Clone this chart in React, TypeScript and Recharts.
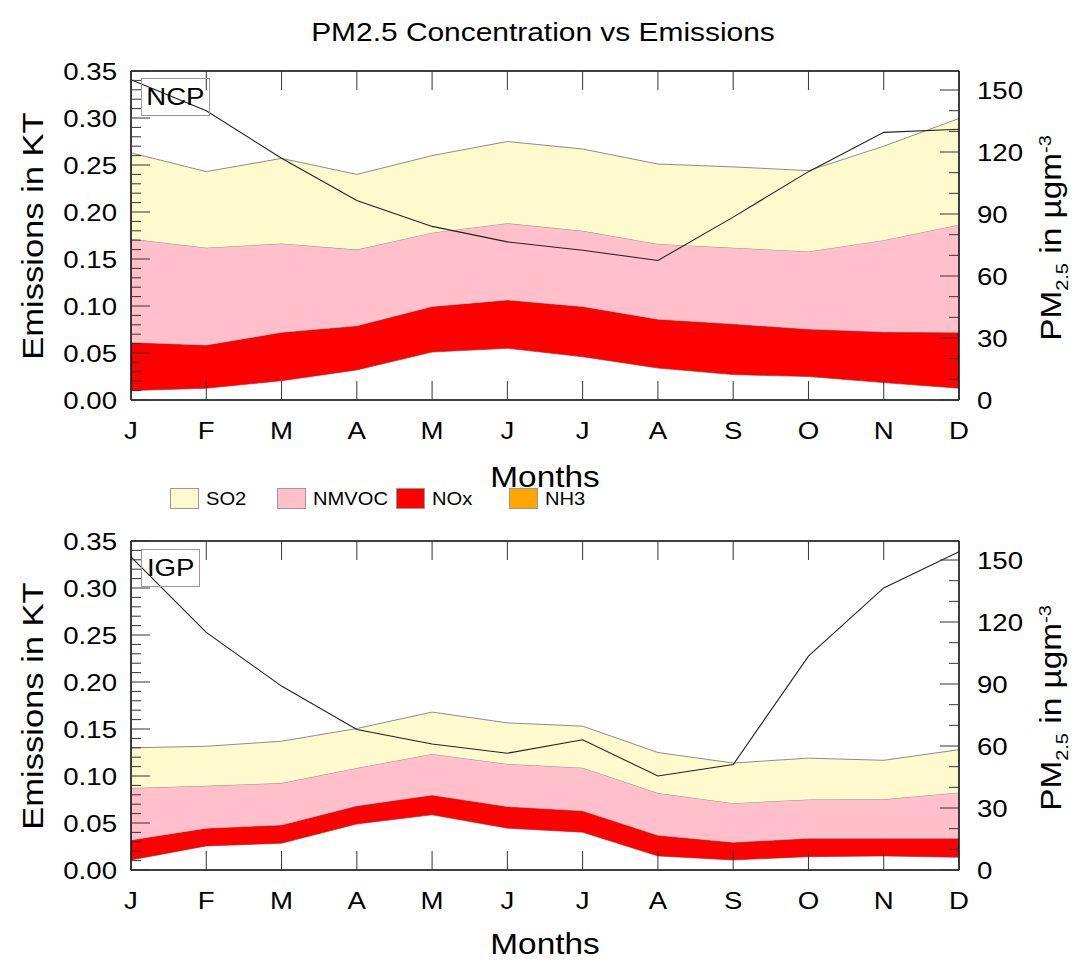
import { ComposedChart, Area, Line, XAxis, YAxis, ReferenceLine } from 'recharts';

const months = ['J', 'F', 'M', 'A', 'M', 'J', 'J', 'A', 'S', 'O', 'N', 'D'];
const monthIdx = [0, 1, 2, 3, 4, 5, 6, 7, 8, 9, 10, 11];

// NCP emissions (KT), stacked bottom to top
const ncpNH3 = [0.010, 0.0125, 0.0205, 0.032, 0.051, 0.055, 0.046, 0.034, 0.027, 0.025, 0.0185, 0.0125];
const ncpNOx = [0.0515, 0.046, 0.0515, 0.047, 0.0485, 0.0515, 0.0535, 0.052, 0.054, 0.0505, 0.054, 0.0595];
const ncpNMVOC = [0.110, 0.1035, 0.0945, 0.081, 0.0785, 0.0815, 0.0805, 0.080, 0.081, 0.0825, 0.0975, 0.1145];
const ncpSO2 = [0.0915, 0.081, 0.0905, 0.080, 0.082, 0.087, 0.087, 0.085, 0.086, 0.086, 0.100, 0.113];
const ncpPM25 = [155, 140, 117, 96.5, 84, 76.5, 72.5, 67.5, 88.5, 110.5, 129.5, 131];

// IGP emissions (KT)
const igpNH3 = [0.0107, 0.0256, 0.0285, 0.049, 0.0587, 0.0445, 0.0402, 0.015, 0.0107, 0.0142, 0.015, 0.0135];
const igpNOx = [0.0213, 0.0189, 0.0195, 0.0193, 0.021, 0.0231, 0.0228, 0.022, 0.0188, 0.0196, 0.0188, 0.0203];
const igpNMVOC = [0.0552, 0.0451, 0.0445, 0.0402, 0.0437, 0.0452, 0.0458, 0.0448, 0.0416, 0.0412, 0.0414, 0.0487];
const igpSO2 = [0.0428, 0.042, 0.0445, 0.042, 0.0446, 0.0437, 0.0442, 0.0432, 0.0427, 0.044, 0.0415, 0.0455];
const igpPM25 = [151.5, 115, 89, 68, 61, 56.5, 63, 45.5, 51, 103.5, 136.5, 154];

const leftMajor = [0, 0.05, 0.1, 0.15, 0.2, 0.25, 0.3, 0.35];
const leftMinor = [
  0.01, 0.02, 0.03, 0.04, 0.06, 0.07, 0.08, 0.09, 0.11, 0.12, 0.13, 0.14,
  0.16, 0.17, 0.18, 0.19, 0.21, 0.22, 0.23, 0.24, 0.26, 0.27, 0.28, 0.29,
  0.31, 0.32, 0.33, 0.34,
];
const rightMajor = [0, 30, 60, 90, 120, 150];
const rightMinor = [10, 20, 40, 50, 70, 80, 100, 110, 130, 140];

const FONT = '"Liberation Sans", Arial, Helvetica, sans-serif';
const SX = 1.15; // the reference lettering runs a bit wide
const W = 1076;
const PLOT_L = 131;
const PLOT_R = 959;
const PLOT_T = 71;
const PLOT_B = 400;
const AXIS_W = 60;
const X_H = 30;

const COLORS = { so2: '#fffacd', nmvoc: '#ffc0cb', nox: '#ff0000', nh3: '#ffa500' };
const EDGE = '#8c8c8c';

const isIn = (list: number[], v: number) => list.some((m) => Math.abs(m - v) < 1e-6);

function WideText({ x, y, anchor, children }: { x: number; y: number; anchor: 'start' | 'middle' | 'end'; children: any }) {
  return (
    <text
      transform={`translate(${x},${y}) scale(${SX},1)`}
      dy="0.36em"
      textAnchor={anchor}
      fontSize={24}
      fontFamily={FONT}
      fill="#000"
    >
      {children}
    </text>
  );
}

function LeftTick(props: any) {
  const { x, y, payload } = props;
  const major = isIn(leftMajor, payload.value);
  return (
    <g>
      <line x1={x} x2={x + (major ? 19 : 10)} y1={y} y2={y} stroke="#333" strokeWidth={1} />
      {major && (
        <WideText x={x - 14} y={y} anchor="end">
          {payload.value.toFixed(2)}
        </WideText>
      )}
    </g>
  );
}

function RightTick(props: any) {
  const { x, y, payload } = props;
  const major = isIn(rightMajor, payload.value);
  return (
    <g>
      <line x1={x} x2={x - (major ? 19 : 10)} y1={y} y2={y} stroke="#333" strokeWidth={1} />
      {major && (
        <WideText x={x + 18} y={y} anchor="start">
          {payload.value}
        </WideText>
      )}
    </g>
  );
}

function MonthTick(props: any) {
  const { x, y, payload } = props;
  return (
    <g>
      <line x1={x} x2={x} y1={y} y2={y - 19} stroke="#333" strokeWidth={1} />
      <line x1={x} x2={x} y1={PLOT_T} y2={PLOT_T + 19} stroke="#333" strokeWidth={1} />
      <WideText x={x} y={y + 30} anchor="middle">
        {months[payload.value]}
      </WideText>
    </g>
  );
}

interface PanelProps {
  nh3: number[];
  nox: number[];
  nmvoc: number[];
  so2: number[];
  pm: number[];
  height: number;
}

function Panel({ nh3, nox, nmvoc, so2, pm, height }: PanelProps) {
  const data = monthIdx.map((i) => ({
    idx: i,
    nh3: nh3[i],
    nox: nox[i],
    nmvoc: nmvoc[i],
    so2: so2[i],
    pm: pm[i],
  }));
  return (
    <ComposedChart
      width={W}
      height={height}
      data={data}
      margin={{
        top: PLOT_T,
        left: PLOT_L - AXIS_W,
        right: W - PLOT_R - AXIS_W,
        bottom: height - PLOT_B - X_H,
      }}
    >
      <XAxis
        dataKey="idx"
        type="number"
        domain={[0, 11]}
        ticks={monthIdx}
        interval={0}
        height={X_H}
        tickSize={0}
        tickMargin={0}
        tickLine={false}
        axisLine={{ stroke: '#000', strokeWidth: 1.5 }}
        tick={(p: any) => <MonthTick {...p} />}
      />
      <YAxis
        yAxisId="left"
        type="number"
        domain={[0, 0.35]}
        allowDataOverflow
        ticks={[...leftMajor, ...leftMinor].sort((a, b) => a - b)}
        interval={0}
        width={AXIS_W}
        tickSize={0}
        tickMargin={0}
        tickLine={false}
        axisLine={{ stroke: '#000', strokeWidth: 1.5 }}
        tick={(p: any) => <LeftTick {...p} />}
      />
      <YAxis
        yAxisId="right"
        orientation="right"
        type="number"
        domain={[0, 159.2]}
        allowDataOverflow
        ticks={[...rightMajor, ...rightMinor].sort((a, b) => a - b)}
        interval={0}
        width={AXIS_W}
        tickSize={0}
        tickMargin={0}
        tickLine={false}
        axisLine={{ stroke: '#000', strokeWidth: 1.5 }}
        tick={(p: any) => <RightTick {...p} />}
      />
      <Area yAxisId="left" type="linear" dataKey="nh3" stackId="e" stroke={EDGE} strokeWidth={1} fill="#ffffff" fillOpacity={1} isAnimationActive={false} />
      <Area yAxisId="left" type="linear" dataKey="nox" stackId="e" stroke={EDGE} strokeWidth={1} fill={COLORS.nox} fillOpacity={1} isAnimationActive={false} />
      <Area yAxisId="left" type="linear" dataKey="nmvoc" stackId="e" stroke={EDGE} strokeWidth={1} fill={COLORS.nmvoc} fillOpacity={1} isAnimationActive={false} />
      <Area yAxisId="left" type="linear" dataKey="so2" stackId="e" stroke={EDGE} strokeWidth={1} fill={COLORS.so2} fillOpacity={1} isAnimationActive={false} />
      <Line yAxisId="right" type="linear" dataKey="pm" stroke="#222" strokeWidth={1.1} dot={false} isAnimationActive={false} />
      <ReferenceLine yAxisId="left" y={0.35} stroke="#000" strokeWidth={1.5} />
    </ComposedChart>
  );
}

const txt: React.CSSProperties = { position: 'absolute', fontFamily: FONT, color: '#000', whiteSpace: 'nowrap', lineHeight: 1 };

function SideLabels({ top, monthsY }: { top: number; monthsY: number }) {
  const cy = top + (PLOT_T + PLOT_B) / 2;
  return (
    <>
      <div style={{ ...txt, left: 33, top: cy, fontSize: 30, transform: `translate(-50%, -50%) rotate(-90deg) scaleX(${SX})` }}>
        Emissions in KT
      </div>
      <div style={{ ...txt, left: 1054, top: cy + 2, fontSize: 29, transform: `translate(-50%, -50%) rotate(-90deg) scaleX(${SX})` }}>
        PM<sub style={{ fontSize: '0.6em' }}>2.5</sub> in µgm<sup style={{ fontSize: '0.6em' }}>-3</sup>
      </div>
      <div style={{ ...txt, left: (PLOT_L + PLOT_R) / 2, top: monthsY, fontSize: 29, transform: `translate(-50%, -50%) scaleX(${SX})` }}>
        Months
      </div>
    </>
  );
}

const legendItems = [
  { name: 'SO2', color: COLORS.so2, x: 170 },
  { name: 'NMVOC', color: COLORS.nmvoc, x: 277 },
  { name: 'NOx', color: COLORS.nox, x: 396 },
  { name: 'NH3', color: COLORS.nh3, x: 509 },
];

export default function App() {
  const top2 = 470;
  return (
    <div style={{ position: 'absolute', left: 0, top: 0, width: W, height: 960, background: '#fff', overflow: 'hidden' }}>
      <div style={{ ...txt, left: 543, top: 32, fontSize: 26, transform: `translate(-50%, -50%) scaleX(${SX})` }}>
        PM2.5 Concentration vs Emissions
      </div>
      <div style={{ position: 'absolute', left: 0, top: 0 }}>
        <Panel nh3={ncpNH3} nox={ncpNOx} nmvoc={ncpNMVOC} so2={ncpSO2} pm={ncpPM25} height={460} />
      </div>
      <div style={{ position: 'absolute', left: 0, top: top2 }}>
        <Panel nh3={igpNH3} nox={igpNOx} nmvoc={igpNMVOC} so2={igpSO2} pm={igpPM25} height={490} />
      </div>
      <SideLabels top={0} monthsY={477} />
      <SideLabels top={top2} monthsY={944} />
      <div style={{ ...txt, left: 141, top: 78, width: 69, height: 38, border: '1px solid #999', display: 'flex', alignItems: 'center', justifyContent: 'center', boxSizing: 'border-box' }}>
        <span style={{ fontSize: 24, transform: `scaleX(${SX})` }}>NCP</span>
      </div>
      <div style={{ ...txt, left: 141, top: top2 + 79, width: 59, height: 38, border: '1px solid #999', display: 'flex', alignItems: 'center', justifyContent: 'center', boxSizing: 'border-box' }}>
        <span style={{ fontSize: 24, transform: `scaleX(${SX})` }}>IGP</span>
      </div>
      {legendItems.map((it) => (
        <div key={it.name} style={{ position: 'absolute', left: it.x, top: 488, display: 'flex', alignItems: 'center' }}>
          <div style={{ width: 29, height: 21, background: it.color, border: '1px solid #999', boxSizing: 'border-box' }} />
          <span style={{ fontFamily: FONT, fontSize: 19, marginLeft: 7, lineHeight: 1, display: 'inline-block', transform: 'scaleX(1.06)', transformOrigin: 'left center' }}>
            {it.name}
          </span>
        </div>
      ))}
    </div>
  );
}
